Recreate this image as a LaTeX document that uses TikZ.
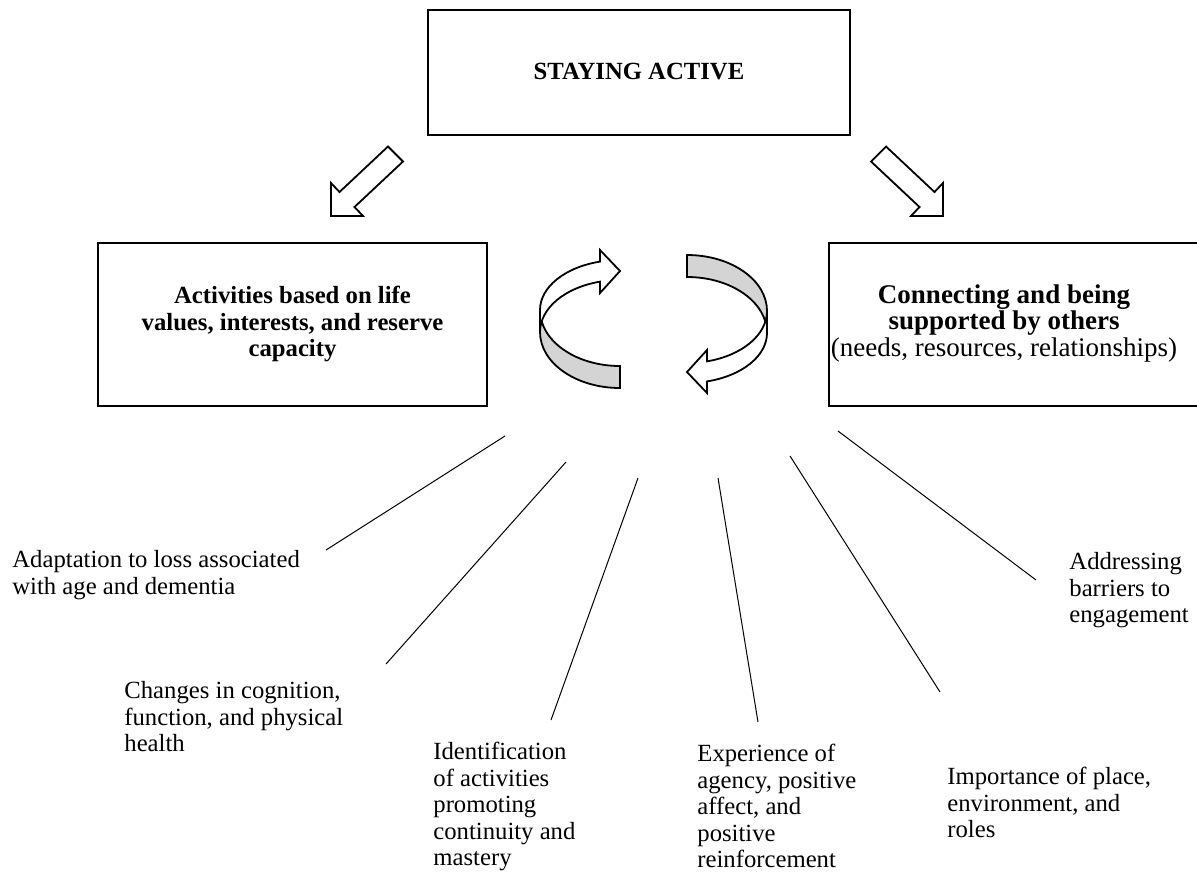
\documentclass[tikz,border=0pt]{standalone}
\usepackage{fontspec}
\setmainfont{Liberation Serif}
\definecolor{ribgrey}{RGB}{212,212,212}
\begin{document}
\begin{tikzpicture}[x=0.5pt,y=0.5pt,
  box/.style={draw, line width=1pt, inner sep=0pt},
  bt/.style={font=\fontsize{12.35}{13.25}\selectfont, align=center, inner sep=0pt},
  lbl/.style={font=\fontsize{12.35}{13.25}\selectfont, align=left, anchor=north west, inner sep=0pt},
  conn/.style={line width=0.5pt},
  blk/.style={draw, line width=0.9pt, fill=white, line join=miter},
  rib/.style={draw, line width=0.9pt, fill=white, line join=miter},
  ribg/.style={draw, line width=0.9pt, fill=ribgrey, line join=miter},
]
\useasboundingbox (0,0) rectangle (1197,-879);
\clip (0,0) rectangle (1197,-879);

% boxes
\node[box, minimum width=211pt, minimum height=62.5pt] (top) at (639,-72.5) {};
\node[bt] (toptext) at (639,-72) {\textbf{STAYING ACTIVE}};
\node[box, minimum width=194.5pt, minimum height=81.5pt] (lbox) at (292.5,-324.5) {};
\node[bt] (ltext) at (292.5,-324) {\textbf{Activities based on life}\\\textbf{values, interests, and reserve}\\\textbf{capacity}};
\node[box, minimum width=190.5pt, minimum height=81.5pt] (rbox) at (1019.5,-324.5) {};
\node[bt, font=\fontsize{13.5}{13.25}\selectfont] (rtext) at (1004,-323) {\textbf{Connecting and being}\\\textbf{supported by others}\\(needs, resources, relationships)};

% block arrows
\draw[blk] (388,-146.5) -- (403,-161.5) -- (354.5,-207) -- (363,-216) -- (331,-216) -- (331,-183) -- (339.5,-192) -- cycle;
\draw[blk] (886,-146.5) -- (871,-161.5) -- (919.5,-207) -- (911,-216) -- (943,-216) -- (943,-183) -- (934.5,-192) -- cycle;

% cycle arrows
\begin{scope}
  \draw[ribg] (540,-310) arc[start angle=180,end angle=270,x radius=80,y radius=56]
     -- (620,-388) arc[start angle=270,end angle=180,x radius=80,y radius=56] -- cycle;
  \draw[rib] (540,-310) arc[start angle=180,end angle=104.48,x radius=80,y radius=50]
     -- (600,-250) -- (620,-271) -- (600,-293) -- (600,-281.65)
     arc[start angle=104.48,end angle=180,x radius=80,y radius=52] -- cycle;
\end{scope}
\begin{scope}[rotate around={180:(653.5,-321.5)}]
  \draw[ribg] (540,-310) arc[start angle=180,end angle=270,x radius=80,y radius=56]
     -- (620,-388) arc[start angle=270,end angle=180,x radius=80,y radius=56] -- cycle;
  \draw[rib] (540,-310) arc[start angle=180,end angle=104.48,x radius=80,y radius=50]
     -- (600,-250) -- (620,-271) -- (600,-293) -- (600,-281.65)
     arc[start angle=104.48,end angle=180,x radius=80,y radius=52] -- cycle;
\end{scope}

% labels
\node[lbl] (l1) at (12,-550) {Adaptation to loss associated\\with age and dementia};
\node[lbl] (l2) at (124,-681) {Changes in cognition,\\function, and physical\\health};
\node[lbl] (l3) at (433,-742) {Identification\\of activities\\promoting\\continuity and\\mastery};
\node[lbl] (l4) at (697,-744) {Experience of\\agency, positive\\affect, and\\positive\\reinforcement};
\node[lbl] (l5) at (947,-767) {Importance of place,\\environment, and\\roles};
\node[lbl] (l6) at (1069,-552) {Addressing\\barriers to\\engagement};

% connector ends
\coordinate (s1) at (505,-436); \coordinate (e1) at (326,-550);
\coordinate (s2) at (566,-462); \coordinate (e2) at (386,-664);
\coordinate (s3) at (638,-478); \coordinate (e3) at (551,-720);
\coordinate (s4) at (718,-478); \coordinate (e4) at (758,-722);
\coordinate (s5) at (790,-456); \coordinate (e5) at (940,-692);
\coordinate (s6) at (838,-431); \coordinate (e6) at (1036,-580);
\draw[conn] (s1) -- (e1);
\draw[conn] (s2) -- (e2);
\draw[conn] (s3) -- (e3);
\draw[conn] (s4) -- (e4);
\draw[conn] (s5) -- (e5);
\draw[conn] (s6) -- (e6);
\end{tikzpicture}
\end{document}
